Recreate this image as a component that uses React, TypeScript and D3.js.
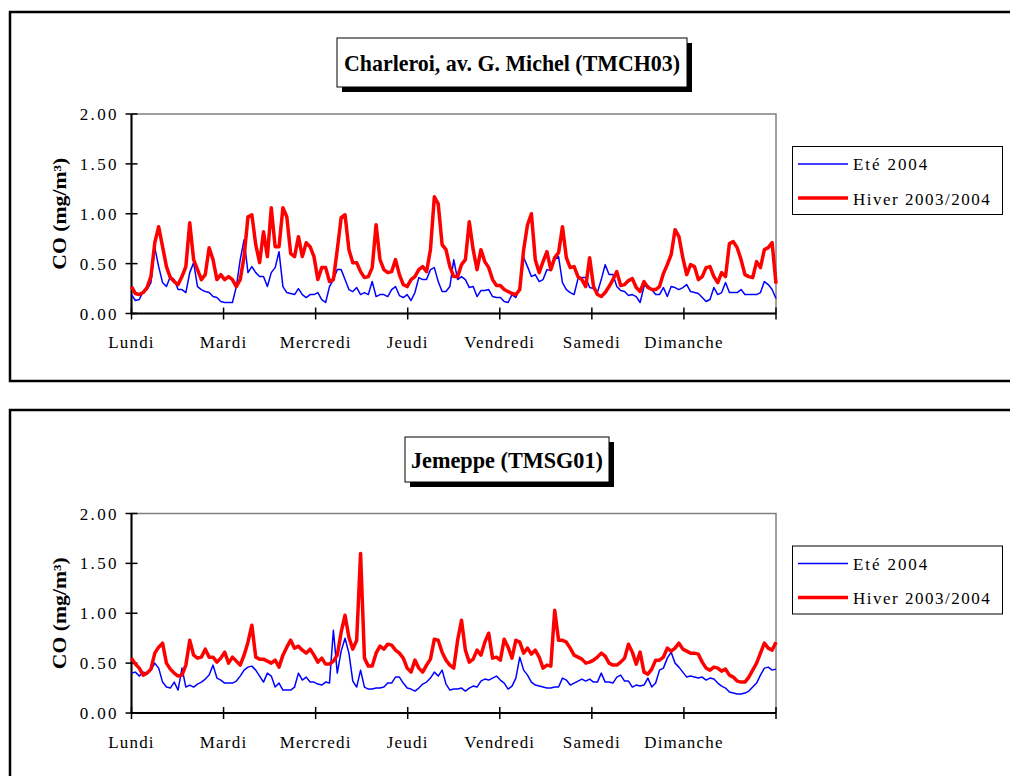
import React from "react";
import * as d3 from "d3";

const days = ["Lundi", "Mardi", "Mercredi", "Jeudi", "Vendredi", "Samedi", "Dimanche"];
const yTicks = [0, 0.5, 1, 1.5, 2];
const legendLabels = ["Eté 2004", "Hiver 2003/2004"];
const titles = ["Charleroi, av. G. Michel (TMCH03)", "Jemeppe (TMSG01)"];

// Charleroi – hourly mean profile over the week
const charleroiHiver = [
  0.27, 0.20, 0.19, 0.21, 0.26, 0.37, 0.71, 0.87, 0.67,
  0.47, 0.36, 0.32, 0.29, 0.37, 0.47, 0.91, 0.54, 0.44, 0.34,
  0.39, 0.66, 0.54, 0.34, 0.39, 0.34, 0.37, 0.34, 0.27, 0.34,
  0.57, 0.97, 0.99, 0.69, 0.51, 0.82, 0.57, 1.06, 0.67, 0.67,
  1.06, 0.97, 0.60, 0.57, 0.77, 0.57, 0.71, 0.67, 0.57, 0.34,
  0.46, 0.46, 0.32, 0.34, 0.64, 0.96, 0.99, 0.64, 0.51, 0.51,
  0.42, 0.36, 0.37, 0.46, 0.89, 0.54, 0.44, 0.41, 0.42, 0.54,
  0.39, 0.29, 0.27, 0.34, 0.37, 0.44, 0.47, 0.42, 0.64, 1.17,
  1.10, 0.69, 0.64, 0.47, 0.37, 0.37, 0.49, 0.54, 0.92, 0.64,
  0.44, 0.64, 0.52, 0.46, 0.34, 0.28, 0.28, 0.24, 0.22, 0.20,
  0.19, 0.24, 0.64, 0.89, 1.00, 0.54, 0.41, 0.52, 0.62, 0.44,
  0.56, 0.61, 0.87, 0.56, 0.46, 0.47, 0.37, 0.34, 0.27, 0.56,
  0.27, 0.19, 0.17, 0.21, 0.27, 0.34, 0.42, 0.28, 0.29, 0.33,
  0.35, 0.26, 0.22, 0.32, 0.26, 0.24, 0.24, 0.27, 0.40, 0.49,
  0.59, 0.84, 0.77, 0.56, 0.39, 0.49, 0.47, 0.34, 0.37, 0.46,
  0.47, 0.37, 0.31, 0.41, 0.37, 0.70, 0.72, 0.66, 0.54, 0.39,
  0.37, 0.36, 0.52, 0.46, 0.64, 0.66, 0.71, 0.30,
];
const charleroiEte = [
  0.19, 0.13, 0.14, 0.22, 0.24, 0.31, 0.66, 0.47, 0.31,
  0.27, 0.37, 0.34, 0.24, 0.24, 0.21, 0.41, 0.51, 0.27, 0.24,
  0.22, 0.21, 0.17, 0.16, 0.12, 0.11, 0.11, 0.11, 0.27, 0.54,
  0.74, 0.41, 0.47, 0.41, 0.37, 0.37, 0.27, 0.41, 0.46, 0.62,
  0.27, 0.21, 0.20, 0.19, 0.25, 0.19, 0.16, 0.19, 0.19, 0.21,
  0.14, 0.11, 0.27, 0.34, 0.44, 0.44, 0.34, 0.24, 0.22, 0.26,
  0.19, 0.21, 0.19, 0.32, 0.17, 0.19, 0.19, 0.17, 0.24, 0.27,
  0.18, 0.16, 0.19, 0.13, 0.21, 0.36, 0.34, 0.34, 0.44, 0.46,
  0.32, 0.22, 0.22, 0.27, 0.54, 0.34, 0.37, 0.34, 0.26, 0.27,
  0.17, 0.23, 0.23, 0.24, 0.17, 0.16, 0.16, 0.12, 0.11, 0.19,
  0.16, 0.27, 0.56, 0.47, 0.37, 0.39, 0.32, 0.34, 0.44, 0.43,
  0.54, 0.57, 0.31, 0.24, 0.21, 0.19, 0.35, 0.36, 0.36, 0.26,
  0.25, 0.21, 0.34, 0.49, 0.39, 0.39, 0.27, 0.23, 0.22, 0.18,
  0.19, 0.17, 0.11, 0.27, 0.28, 0.24, 0.19, 0.19, 0.26, 0.17,
  0.27, 0.26, 0.24, 0.26, 0.29, 0.22, 0.21, 0.20, 0.16, 0.12,
  0.14, 0.26, 0.19, 0.21, 0.31, 0.21, 0.21, 0.21, 0.24, 0.19,
  0.19, 0.19, 0.19, 0.21, 0.32, 0.29, 0.24, 0.15,
];

// Jemeppe – hourly mean profile over the week
const jemeppeHiver = [
  0.55, 0.49, 0.45, 0.38, 0.40, 0.44, 0.60, 0.66, 0.70,
  0.50, 0.44, 0.40, 0.37, 0.38, 0.48, 0.73, 0.58, 0.55, 0.56,
  0.64, 0.56, 0.56, 0.51, 0.55, 0.61, 0.50, 0.56, 0.52, 0.48,
  0.58, 0.71, 0.88, 0.56, 0.54, 0.54, 0.52, 0.50, 0.53, 0.46,
  0.58, 0.66, 0.73, 0.65, 0.67, 0.63, 0.60, 0.64, 0.58, 0.51,
  0.55, 0.49, 0.49, 0.52, 0.58, 0.81, 0.98, 0.76, 0.64, 0.73,
  1.60, 0.55, 0.47, 0.47, 0.60, 0.67, 0.64, 0.69, 0.68, 0.63,
  0.60, 0.55, 0.45, 0.41, 0.53, 0.45, 0.41, 0.48, 0.54, 0.74,
  0.73, 0.61, 0.53, 0.48, 0.45, 0.73, 0.93, 0.63, 0.51, 0.54,
  0.63, 0.58, 0.71, 0.80, 0.55, 0.56, 0.53, 0.74, 0.66, 0.55,
  0.73, 0.71, 0.60, 0.65, 0.59, 0.63, 0.56, 0.45, 0.48, 0.47,
  1.03, 0.73, 0.73, 0.71, 0.65, 0.58, 0.56, 0.54, 0.50, 0.51,
  0.53, 0.56, 0.60, 0.57, 0.50, 0.48, 0.48, 0.51, 0.55, 0.69,
  0.61, 0.49, 0.61, 0.41, 0.39, 0.44, 0.53, 0.53, 0.56, 0.65,
  0.62, 0.65, 0.70, 0.64, 0.62, 0.60, 0.60, 0.59, 0.51, 0.45,
  0.43, 0.46, 0.45, 0.42, 0.44, 0.38, 0.36, 0.32, 0.31, 0.31,
  0.36, 0.43, 0.50, 0.60, 0.70, 0.65, 0.63, 0.71,
];
const jemeppeEte = [
  0.40, 0.41, 0.37, 0.41, 0.40, 0.43, 0.50, 0.45, 0.31,
  0.26, 0.25, 0.31, 0.23, 0.45, 0.26, 0.28, 0.26, 0.29, 0.31,
  0.34, 0.38, 0.48, 0.35, 0.33, 0.30, 0.30, 0.30, 0.32, 0.37,
  0.43, 0.46, 0.47, 0.43, 0.37, 0.31, 0.40, 0.37, 0.26, 0.30,
  0.23, 0.23, 0.23, 0.26, 0.40, 0.33, 0.36, 0.31, 0.31, 0.29,
  0.28, 0.31, 0.30, 0.83, 0.40, 0.62, 0.75, 0.60, 0.32, 0.26,
  0.43, 0.26, 0.24, 0.24, 0.25, 0.25, 0.26, 0.30, 0.30, 0.36,
  0.36, 0.30, 0.25, 0.24, 0.22, 0.25, 0.29, 0.31, 0.35, 0.41,
  0.37, 0.43, 0.29, 0.23, 0.24, 0.24, 0.25, 0.22, 0.25, 0.27,
  0.26, 0.32, 0.34, 0.33, 0.35, 0.37, 0.33, 0.30, 0.24, 0.27,
  0.35, 0.56, 0.43, 0.38, 0.31, 0.28, 0.27, 0.26, 0.25, 0.25,
  0.26, 0.26, 0.35, 0.33, 0.28, 0.30, 0.32, 0.34, 0.32, 0.34,
  0.31, 0.31, 0.40, 0.31, 0.31, 0.30, 0.36, 0.38, 0.32, 0.32,
  0.26, 0.28, 0.27, 0.28, 0.35, 0.26, 0.30, 0.43, 0.45, 0.55,
  0.61, 0.50, 0.46, 0.41, 0.36, 0.37, 0.36, 0.35, 0.36, 0.33,
  0.35, 0.34, 0.30, 0.27, 0.25, 0.21, 0.20, 0.19, 0.19, 0.20,
  0.22, 0.26, 0.30, 0.38, 0.45, 0.46, 0.43, 0.44,
];

const SERIF = "'Liberation Serif', 'Times New Roman', Times, serif";
const X0 = 131.5;
const X1 = 776;

type PanelProps = {
  dy: number;
  title: string;
  titleBox: { x: number; y: number; w: number; h: number; tl: number };
  ete: number[];
  hiver: number[];
};

function Panel({ dy, title, titleBox, ete, hiver }: PanelProps) {
  const yTop = 114 + dy;
  const yBot = 313.5 + dy;
  const y = d3.scaleLinear().domain([0, 2]).range([yBot, yTop]);
  const xDay = d3.scaleLinear().domain([0, 7]).range([X0, X1]);
  const xE = d3.scaleLinear().domain([0, ete.length - 1]).range([X0, X1]);
  const xH = d3.scaleLinear().domain([0, hiver.length - 1]).range([X0, X1]);
  const lineE = d3.line<number>().x((_, i) => xE(i)).y((v) => y(v));
  const lineH = d3.line<number>().x((_, i) => xH(i)).y((v) => y(v));
  const lg = { x: 792.5, y: 146.5 + dy, w: 210, h: 68 };

  return (
    <g>
      {/* title box with shadow */}
      <rect x={titleBox.x + 5} y={titleBox.y + dy + 5} width={titleBox.w} height={titleBox.h} fill="#000" />
      <rect x={titleBox.x} y={titleBox.y + dy} width={titleBox.w} height={titleBox.h} fill="#fff" stroke="#000" strokeWidth={1} />
      <text
        x={titleBox.x + titleBox.w / 2}
        y={titleBox.y + dy + titleBox.h / 2 + 8}
        textAnchor="middle"
        fontFamily={SERIF}
        fontWeight="bold"
        fontSize={23}
        textLength={titleBox.tl}
        lengthAdjust="spacingAndGlyphs"
      >
        {title}
      </text>

      {/* plot frame */}
      <rect x={X0} y={yTop} width={X1 - X0} height={yBot - yTop} fill="none" stroke="#808080" strokeWidth={1.5} />
      <line x1={X0} x2={X0} y1={yTop} y2={yBot} stroke="#000" strokeWidth={2} />
      <line x1={X0} x2={X1} y1={yBot} y2={yBot} stroke="#000" strokeWidth={2} />

      {yTicks.map((t) => (
        <g key={t}>
          <line x1={X0 - 6} x2={X0 + 6} y1={y(t)} y2={y(t)} stroke="#000" strokeWidth={1.5} />
          <text
            x={119}
            y={y(t) + 6}
            textAnchor="end"
            fontFamily={SERIF}
            fontSize={17}
            letterSpacing={2.4}
          >
            {d3.format(".2f")(t)}
          </text>
        </g>
      ))}
      {d3.range(8).map((d) => (
        <line key={d} x1={xDay(d)} x2={xDay(d)} y1={yBot - 6} y2={yBot + 6} stroke="#000" strokeWidth={1.5} />
      ))}
      {days.map((d, i) => (
        <text
          key={d}
          x={xDay(i)}
          y={yBot + 34.5}
          textAnchor="middle"
          fontFamily={SERIF}
          fontSize={17}
          letterSpacing={1.2}
        >
          {d}
        </text>
      ))}

      <text
        transform={`translate(66, ${(yTop + yBot) / 2}) rotate(-90)`}
        textAnchor="middle"
        fontFamily={SERIF}
        fontWeight="bold"
        fontSize={18}
        textLength={112}
        lengthAdjust="spacingAndGlyphs"
      >
        CO (mg/m³)
      </text>

      <path d={lineE(ete) || ""} fill="none" stroke="#0000FF" strokeWidth={1.5} strokeLinejoin="round" />
      <path d={lineH(hiver) || ""} fill="none" stroke="#FF0000" strokeWidth={3.5} strokeLinejoin="round" />

      {/* legend */}
      <rect x={lg.x} y={lg.y} width={lg.w} height={lg.h} fill="#fff" stroke="#000" strokeWidth={1} />
      <line x1={798} x2={848} y1={lg.y + 17.5} y2={lg.y + 17.5} stroke="#0000FF" strokeWidth={1.5} />
      <line x1={798} x2={848} y1={lg.y + 51.5} y2={lg.y + 51.5} stroke="#FF0000" strokeWidth={3.5} />
      <text x={853} y={lg.y + 23.5} fontFamily={SERIF} fontSize={17} letterSpacing={1.9}>
        {legendLabels[0]}
      </text>
      <text x={853} y={lg.y + 58} fontFamily={SERIF} fontSize={17} letterSpacing={1.5}>
        {legendLabels[1]}
      </text>
    </g>
  );
}

export default function App() {
  return (
    <svg
      width={1010}
      height={776}
      style={{ position: "absolute", left: 0, top: 0, background: "#fff" }}
    >
      <rect x={0} y={0} width={1010} height={776} fill="#fff" />
      {/* outer frames */}
      <rect x={10} y={12} width={1100} height={369} fill="none" stroke="#000" strokeWidth={2.5} />
      <rect x={10} y={410} width={1100} height={500} fill="none" stroke="#000" strokeWidth={2.5} />
      <Panel
        dy={0}
        title={titles[0]}
        titleBox={{ x: 337, y: 38, w: 350, h: 49, tl: 336 }}
        ete={charleroiEte}
        hiver={charleroiHiver}
      />
      <Panel
        dy={399.5}
        title={titles[1]}
        titleBox={{ x: 405, y: 37.5, w: 204, h: 45, tl: 192 }}
        ete={jemeppeEte}
        hiver={jemeppeHiver}
      />
    </svg>
  );
}
